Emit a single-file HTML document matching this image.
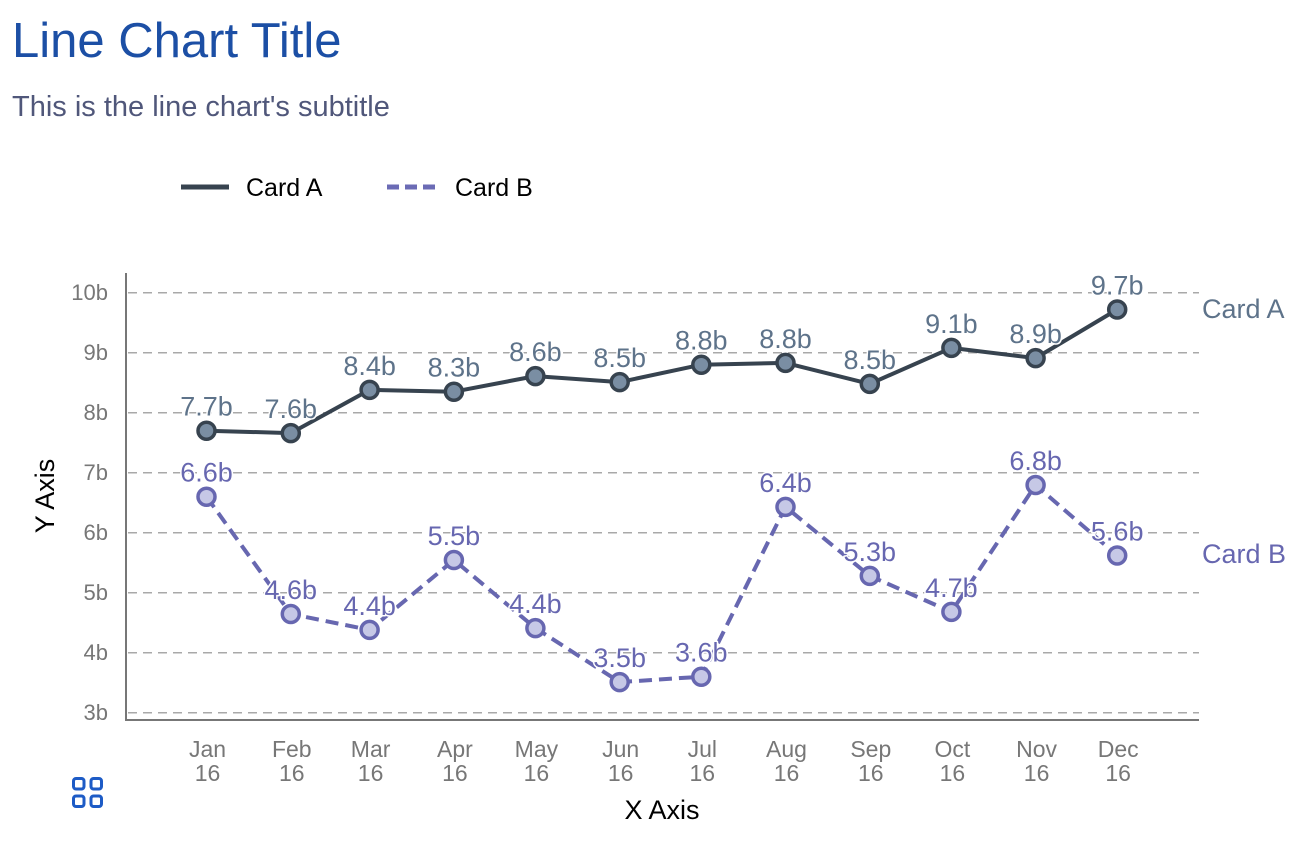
<!DOCTYPE html>
<html>
<head>
<meta charset="utf-8">
<style>
html,body{margin:0;padding:0;background:#fff;}
svg{display:block;}
.lbl{paint-order:stroke;stroke:#fff;stroke-width:3px;stroke-linejoin:round;}
</style>
</head>
<body>
<svg width="1306" height="842" viewBox="0 0 1306 842" xmlns="http://www.w3.org/2000/svg" font-family="Liberation Sans, Arial, sans-serif">
  <!-- Title -->
  <text x="12" y="57" font-size="49" fill="#1c4fa5">Line Chart Title</text>
  <text x="12" y="116" font-size="29" fill="#50577a">This is the line chart's subtitle</text>

  <!-- Legend -->
  <line x1="181" y1="187" x2="229" y2="187" stroke="#37434f" stroke-width="5"/>
  <text x="246" y="196" font-size="25" fill="#000">Card A</text>
  <line x1="387" y1="187" x2="440" y2="187" stroke="#6b6bb5" stroke-width="5" stroke-dasharray="12,6"/>
  <text x="455" y="196" font-size="25" fill="#000">Card B</text>

  <!-- Gridlines -->
  <g stroke="#a9a9a9" stroke-width="1.5" stroke-dasharray="9,6">
    <line x1="128" y1="292.7" x2="1199" y2="292.7"/>
    <line x1="128" y1="352.7" x2="1199" y2="352.7"/>
    <line x1="128" y1="412.7" x2="1199" y2="412.7"/>
    <line x1="128" y1="472.7" x2="1199" y2="472.7"/>
    <line x1="128" y1="532.7" x2="1199" y2="532.7"/>
    <line x1="128" y1="592.7" x2="1199" y2="592.7"/>
    <line x1="128" y1="652.7" x2="1199" y2="652.7"/>
    <line x1="128" y1="712.7" x2="1199" y2="712.7"/>
  </g>

  <!-- Axes -->
  <line x1="126" y1="273" x2="126" y2="721" stroke="#777" stroke-width="2"/>
  <line x1="125" y1="720" x2="1199" y2="720" stroke="#777" stroke-width="2"/>

  <!-- Y tick labels -->
  <g font-size="22" fill="#777" text-anchor="end">
    <text x="108" y="300">10b</text>
    <text x="108" y="360">9b</text>
    <text x="108" y="420">8b</text>
    <text x="108" y="480">7b</text>
    <text x="108" y="540">6b</text>
    <text x="108" y="600">5b</text>
    <text x="108" y="660">4b</text>
    <text x="108" y="720">3b</text>
  </g>

  <!-- X tick labels -->
  <g font-size="23" fill="#777" text-anchor="middle">
    <text x="207.5" y="757">Jan</text><text x="207.5" y="781">16</text>
    <text x="291.8" y="757">Feb</text><text x="291.8" y="781">16</text>
    <text x="370.6" y="757">Mar</text><text x="370.6" y="781">16</text>
    <text x="454.9" y="757">Apr</text><text x="454.9" y="781">16</text>
    <text x="536.4" y="757">May</text><text x="536.4" y="781">16</text>
    <text x="620.7" y="757">Jun</text><text x="620.7" y="781">16</text>
    <text x="702.3" y="757">Jul</text><text x="702.3" y="781">16</text>
    <text x="786.5" y="757">Aug</text><text x="786.5" y="781">16</text>
    <text x="870.8" y="757">Sep</text><text x="870.8" y="781">16</text>
    <text x="952.4" y="757">Oct</text><text x="952.4" y="781">16</text>
    <text x="1036.6" y="757">Nov</text><text x="1036.6" y="781">16</text>
    <text x="1118.2" y="757">Dec</text><text x="1118.2" y="781">16</text>
  </g>

  <!-- Axis titles -->
  <text x="662" y="819" font-size="27" fill="#000" text-anchor="middle">X Axis</text>
  <text transform="translate(54,496) rotate(-90)" font-size="27" fill="#000" text-anchor="middle">Y Axis</text>

  <!-- Series A line -->
  <polyline fill="none" stroke="#37434f" stroke-width="4" stroke-linejoin="round"
    points="206.5,430.7 290.8,433.1 369.6,389.9 453.9,391.7 535.4,376.1 619.7,382.1 701.3,364.7 785.5,362.9 869.8,383.9 951.4,347.9 1035.6,358.1 1117.2,309.5"/>
  <!-- Series B line -->
  <polyline fill="none" stroke="#6767b0" stroke-width="4" stroke-dasharray="13,7" stroke-linejoin="round"
    points="206.5,496.7 290.8,614.0 369.6,629.9 453.9,560.0 535.4,628.1 619.7,682.1 701.3,676.7 785.5,506.9 869.8,575.9 951.4,611.9 1035.6,485.0 1117.2,555.5"/>

  <!-- Labels A -->
  <g font-size="27" fill="#5e738a" text-anchor="middle" class="lbl">
    <text x="206.5" y="415.7">7.7b</text>
    <text x="290.8" y="418.1">7.6b</text>
    <text x="369.6" y="374.9">8.4b</text>
    <text x="453.9" y="376.7">8.3b</text>
    <text x="535.4" y="361.1">8.6b</text>
    <text x="619.7" y="367.1">8.5b</text>
    <text x="701.3" y="349.7">8.8b</text>
    <text x="785.5" y="347.9">8.8b</text>
    <text x="869.8" y="368.9">8.5b</text>
    <text x="951.4" y="332.9">9.1b</text>
    <text x="1035.6" y="343.1">8.9b</text>
    <text x="1117.2" y="294.5">9.7b</text>
  </g>
  <!-- Labels B -->
  <g font-size="27" fill="#6767b0" text-anchor="middle" class="lbl">
    <text x="206.5" y="481.7">6.6b</text>
    <text x="290.8" y="599.0">4.6b</text>
    <text x="369.6" y="614.9">4.4b</text>
    <text x="453.9" y="545.0">5.5b</text>
    <text x="535.4" y="613.1">4.4b</text>
    <text x="619.7" y="667.1">3.5b</text>
    <text x="701.3" y="661.7">3.6b</text>
    <text x="785.5" y="491.9">6.4b</text>
    <text x="869.8" y="560.9">5.3b</text>
    <text x="951.4" y="596.9">4.7b</text>
    <text x="1035.6" y="470.0">6.8b</text>
    <text x="1117.2" y="540.5">5.6b</text>
  </g>

  <!-- Markers A -->
  <g fill="#7a8ea3" stroke="#37434f" stroke-width="3.5">
    <circle cx="206.5" cy="430.7" r="8.5"/>
    <circle cx="290.8" cy="433.1" r="8.5"/>
    <circle cx="369.6" cy="389.9" r="8.5"/>
    <circle cx="453.9" cy="391.7" r="8.5"/>
    <circle cx="535.4" cy="376.1" r="8.5"/>
    <circle cx="619.7" cy="382.1" r="8.5"/>
    <circle cx="701.3" cy="364.7" r="8.5"/>
    <circle cx="785.5" cy="362.9" r="8.5"/>
    <circle cx="869.8" cy="383.9" r="8.5"/>
    <circle cx="951.4" cy="347.9" r="8.5"/>
    <circle cx="1035.6" cy="358.1" r="8.5"/>
    <circle cx="1117.2" cy="309.5" r="8.5"/>
  </g>
  <!-- Markers B -->
  <g fill="#c6c8e6" stroke="#6767b0" stroke-width="3.5">
    <circle cx="206.5" cy="496.7" r="8.5"/>
    <circle cx="290.8" cy="614.0" r="8.5"/>
    <circle cx="369.6" cy="629.9" r="8.5"/>
    <circle cx="453.9" cy="560.0" r="8.5"/>
    <circle cx="535.4" cy="628.1" r="8.5"/>
    <circle cx="619.7" cy="682.1" r="8.5"/>
    <circle cx="701.3" cy="676.7" r="8.5"/>
    <circle cx="785.5" cy="506.9" r="8.5"/>
    <circle cx="869.8" cy="575.9" r="8.5"/>
    <circle cx="951.4" cy="611.9" r="8.5"/>
    <circle cx="1035.6" cy="485.0" r="8.5"/>
    <circle cx="1117.2" cy="555.5" r="8.5"/>
  </g>

  <!-- Series end labels -->
  <text x="1202" y="318" font-size="27" fill="#5e738a">Card A</text>
  <text x="1202" y="563" font-size="27" fill="#6767b0">Card B</text>

  <!-- Icon -->
  <g fill="none" stroke="#1d5bc6" stroke-width="3">
    <rect x="73.5" y="778.5" width="10.5" height="10.5" rx="2.5"/>
    <rect x="91" y="778.5" width="10.5" height="10.5" rx="2.5"/>
    <rect x="73.5" y="796" width="10.5" height="10.5" rx="2.5"/>
    <rect x="91" y="796" width="10.5" height="10.5" rx="2.5"/>
  </g>
</svg>
</body>
</html>
